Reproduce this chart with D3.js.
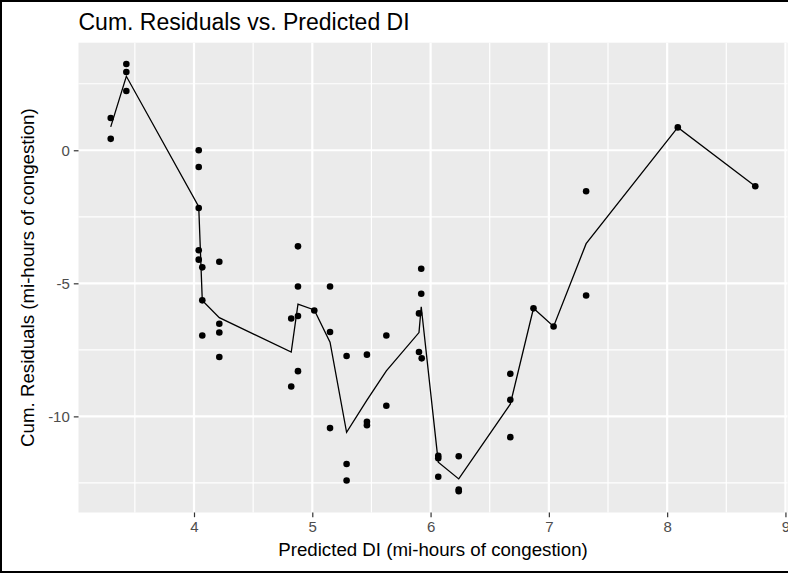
<!DOCTYPE html>
<html>
<head>
<meta charset="utf-8">
<script src="https://cdn.jsdelivr.net/npm/d3@7/dist/d3.min.js"></script>
<style>
  html, body { margin: 0; padding: 0; background: #fff; }
  svg { display: block; font-family: "Liberation Sans", Arial, sans-serif; }
</style>
</head>
<body>
<div id="chart"></div>
<script>
// Chart layout (ggplot-like theme_gray)
const CHART = {
    width: 788,
    height: 573,
    panel: { left: 78.5, right: 787.5, top: 42.7, bottom: 512.5 },
    panelFill: "#EBEBEB",
    tickColor: "#333333",
    tickText: "#4D4D4D"
};

// Points: predicted DI vs cumulative residual
const predictedDI = [
    3.296, 3.296,
    3.428, 3.428, 3.428,
    4.04, 4.04, 4.04, 4.04, 4.04,
    4.07, 4.07, 4.07,
    4.214, 4.214, 4.214, 4.214,
    4.822, 4.822,
    4.879, 4.879, 4.879, 4.879,
    5.017,
    5.15, 5.15, 5.15,
    5.29, 5.29, 5.29,
    5.462, 5.462, 5.462,
    5.626, 5.626,
    5.902, 5.902,
    5.921, 5.921, 5.925,
    6.065, 6.065, 6.065,
    6.238, 6.238, 6.238,
    6.674, 6.674, 6.674,
    6.87,
    7.04,
    7.315, 7.315,
    8.09,
    8.745
];
const cumResiduals = [
    1.21, 0.43,
    3.24, 2.94, 2.23,
    0.0, -0.63, -2.17, -3.76, -4.11,
    -4.40, -5.64, -6.96,
    -4.19, -6.52, -6.85, -7.77,
    -6.32, -8.88,
    -3.61, -5.12, -6.23, -8.30,
    -6.02,
    -5.12, -6.83, -10.44,
    -7.73, -11.79, -12.41,
    -7.68, -10.20, -10.33,
    -6.96, -9.60,
    -6.13, -7.58,
    -4.45, -5.39, -7.82,
    -11.48, -11.57, -12.27,
    -11.50, -12.75, -12.81,
    -8.40, -9.38, -10.78,
    -5.94,
    -6.62,
    -1.54, -5.46,
    0.86,
    -1.35
];

// Line vertices
const lineX = [3.296, 3.428, 4.04, 4.07, 4.214, 4.822, 4.879, 5.017, 5.15, 5.29,
               5.462, 5.626, 5.902, 5.921, 6.065, 6.238, 6.674, 6.87, 7.04, 7.315,
               8.09, 8.745];
const lineY = [0.88, 2.78, -2.12, -5.64, -6.29, -7.58, -5.78, -6.00, -7.21, -10.60,
               -9.39, -8.29, -6.85, -5.88, -11.72, -12.35, -9.54, -5.94, -6.62, -3.51,
               0.86, -1.35];

const xTicks = [4, 5, 6, 7, 8, 9];
const xMinor = [3.5, 4.5, 5.5, 6.5, 7.5, 8.5];
const yTicks = [-10, -5, 0];
const yMinor = [-12.5, -7.5, -2.5, 2.5];

const titleText = "Cum. Residuals vs. Predicted DI";
const xTitle = "Predicted DI (mi-hours of congestion)";
const yTitle = "Cum. Residuals (mi-hours of congestion)";

const P = CHART.panel;

const svg = d3.select("#chart").append("svg")
    .attr("width", CHART.width)
    .attr("height", CHART.height);

svg.append("rect")
    .attr("width", CHART.width)
    .attr("height", CHART.height)
    .attr("fill", "#fff");

// 5% expansion on both axes, like ggplot
function expand(ext) {
    const pad = (ext[1] - ext[0]) * 0.05;
    return [ext[0] - pad, ext[1] + pad];
}

const x = d3.scaleLinear()
    .domain(expand(d3.extent(predictedDI)))
    .range([P.left, P.right]);

const y = d3.scaleLinear()
    .domain(expand(d3.extent(cumResiduals)))
    .range([P.bottom, P.top]);

// Panel background
svg.append("rect")
    .attr("x", P.left)
    .attr("y", P.top)
    .attr("width", P.right - P.left)
    .attr("height", P.bottom - P.top)
    .attr("fill", CHART.panelFill);

const grid = svg.append("g");

// minor grid
grid.selectAll("line.xminor").data(xMinor).enter().append("line")
    .attr("x1", d => x(d)).attr("x2", d => x(d))
    .attr("y1", P.top).attr("y2", P.bottom)
    .attr("stroke", "#fff").attr("stroke-width", 1.2);
grid.selectAll("line.yminor").data(yMinor).enter().append("line")
    .attr("y1", d => y(d)).attr("y2", d => y(d))
    .attr("x1", P.left).attr("x2", P.right)
    .attr("stroke", "#fff").attr("stroke-width", 1.2);

// major grid
grid.selectAll("line.xmajor").data(xTicks).enter().append("line")
    .attr("x1", d => x(d)).attr("x2", d => x(d))
    .attr("y1", P.top).attr("y2", P.bottom)
    .attr("stroke", "#fff").attr("stroke-width", 2.2);
grid.selectAll("line.ymajor").data(yTicks).enter().append("line")
    .attr("y1", d => y(d)).attr("y2", d => y(d))
    .attr("x1", P.left).attr("x2", P.right)
    .attr("stroke", "#fff").attr("stroke-width", 2.2);

// Line
const lineData = lineX.map((d, i) => [d, lineY[i]]);
svg.append("path")
    .datum(lineData)
    .attr("fill", "none")
    .attr("stroke", "#000")
    .attr("stroke-width", 1.3)
    .attr("d", d3.line().x(d => x(d[0])).y(d => y(d[1])));

// Points
svg.append("g").selectAll("circle")
    .data(predictedDI.map((d, i) => [d, cumResiduals[i]]))
    .enter().append("circle")
    .attr("cx", d => x(d[0]))
    .attr("cy", d => y(d[1]))
    .attr("r", 3.3)
    .attr("fill", "#000");

// Axes
const xAxis = d3.axisBottom(x).tickValues(xTicks).tickSize(4.7).tickPadding(4).tickFormat(d3.format("d"));
const yAxis = d3.axisLeft(y).tickValues(yTicks).tickSize(4.7).tickPadding(4).tickFormat(d => d < 0 ? "-" + Math.abs(d) : d);

const gx = svg.append("g")
    .attr("transform", `translate(0,${P.bottom})`)
    .call(xAxis);
const gy = svg.append("g")
    .attr("transform", `translate(${P.left},0)`)
    .call(yAxis);

[gx, gy].forEach(g => {
    g.select(".domain").remove();
    g.selectAll(".tick line").attr("stroke", CHART.tickColor).attr("stroke-width", 1.2);
    g.selectAll(".tick text")
        .attr("fill", CHART.tickText)
        .style("font-size", "15px")
        .style("font-family", "'Liberation Sans', Arial, sans-serif");
});

// Titles
svg.append("text")
    .attr("x", P.left)
    .attr("y", 30)
    .style("font-size", "23px")
    .attr("fill", "#000")
    .text(titleText);

svg.append("text")
    .attr("x", (P.left + P.right) / 2)
    .attr("y", 556)
    .attr("text-anchor", "middle")
    .style("font-size", "18.7px")
    .attr("fill", "#000")
    .text(xTitle);

svg.append("text")
    .attr("transform", `translate(34,${(P.top + P.bottom) / 2}) rotate(-90)`)
    .attr("text-anchor", "middle")
    .style("font-size", "18.7px")
    .attr("fill", "#000")
    .text(yTitle);

// Outer frame
svg.append("path")
    .attr("d", `M${CHART.width},1 H1 V${CHART.height - 1} H${CHART.width}`)
    .attr("fill", "none")
    .attr("stroke", "#000")
    .attr("stroke-width", 2);
</script>
</body>
</html>
